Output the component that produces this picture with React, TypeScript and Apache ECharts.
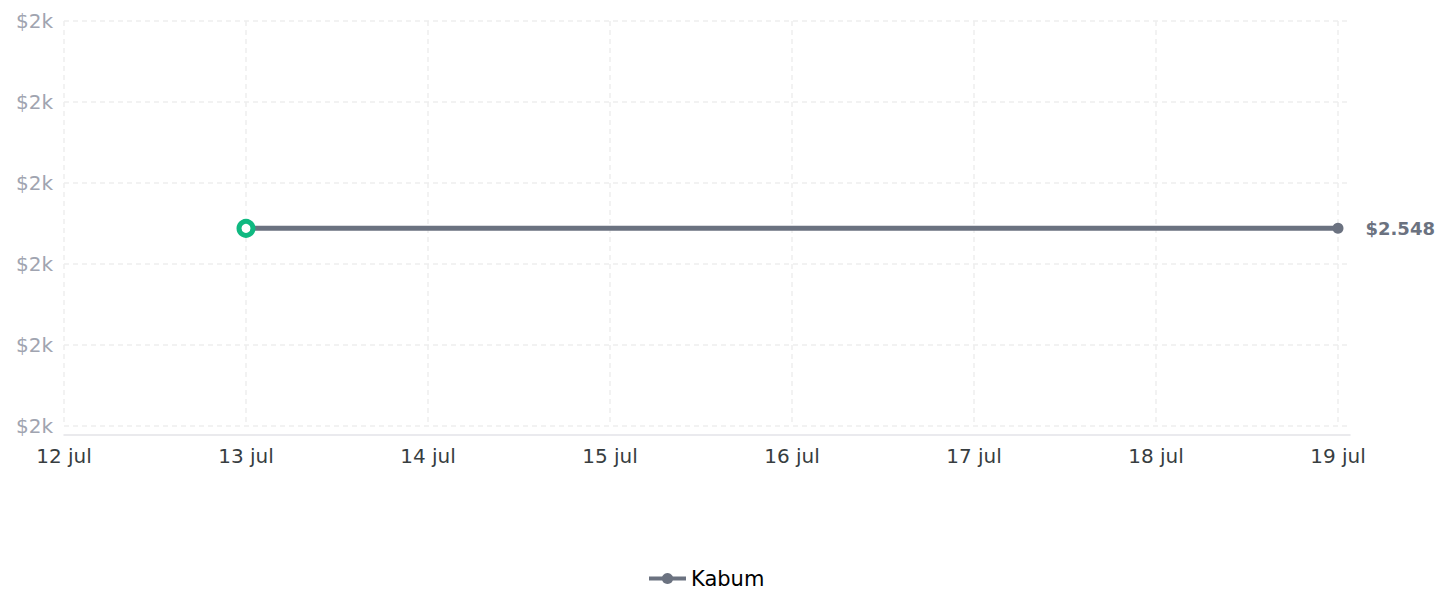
import React, { useEffect, useRef } from "react";
import * as echarts from "echarts";

const categories = ["12 jul", "13 jul", "14 jul", "15 jul", "16 jul", "17 jul", "18 jul", "19 jul"];
const seriesName = "Kabum";
const dayIndex = [1, 2, 3, 4, 5, 6, 7];
const prices = [2548, 2548, 2548, 2548, 2548, 2548, 2548];

const FONT = "'DejaVu Sans', sans-serif";
const LINE_COLOR = "#6b7280";
const GREEN = "#10b981";

function fmtBRL(v: number): string {
  const s = Math.round(v).toString();
  return "$" + s.replace(/\B(?=(\d{3})+(?!\d))/g, ".");
}

export default function App() {
  const ref = useRef<HTMLDivElement>(null);
  useEffect(() => {
    if (!ref.current) return;
    const chart = echarts.init(ref.current, undefined, { renderer: "svg" });
    const last = dayIndex.length - 1;
    const data = dayIndex.map((d, i) => {
      if (i === 0) {
        return {
          value: [d, prices[i]],
          symbol: "circle",
          symbolSize: 14,
          itemStyle: { color: "#ffffff", borderColor: GREEN, borderWidth: 5 },
        };
      }
      if (i === last) {
        return {
          value: [d, prices[i]],
          symbol: "circle",
          symbolSize: 11,
          itemStyle: { color: LINE_COLOR, borderWidth: 0 },
          label: {
            show: true,
            position: "right",
            distance: 22,
            formatter: (p: any) => fmtBRL(p.value[1]),
            color: LINE_COLOR,
            fontFamily: FONT,
            fontSize: 18,
            fontWeight: "bold",
          },
        };
      }
      return { value: [d, prices[i]], symbol: "none" };
    });

    chart.setOption({
      animation: false,
      grid: { left: 64, right: 102, top: 21, bottom: 187, containLabel: false },
      xAxis: {
        type: "value",
        min: 0,
        max: 7.066,
        interval: 1,
        offset: 9,
        axisLine: { show: true, lineStyle: { color: "#e3e3e8", width: 1.5 } },
        axisTick: { show: false },
        axisLabel: {
          showMaxLabel: false,
          margin: 11,
          color: "#373d3f",
          fontFamily: FONT,
          fontSize: 20,
          formatter: (v: number) => (Number.isInteger(v) ? categories[v] ?? "" : ""),
        },
        splitLine: {
          show: true,
          showMaxLine: false,
          lineStyle: { color: "#eeeeee", type: [5, 4], width: 1.5 },
        },
      },
      yAxis: {
        type: "value",
        min: 2545.56,
        max: 2550.56,
        interval: 1,
        axisLine: { show: false },
        axisTick: { show: false },
        axisLabel: {
          margin: 11,
          padding: [6, 0, 0, 0],
          color: "#a0a4b0",
          fontFamily: FONT,
          fontSize: 20,
          formatter: (v: number) => "$" + Math.floor(v / 1000) + "k",
        },
        splitLine: {
          show: true,
          lineStyle: { color: "#eeeeee", type: [5, 4], width: 1.5 },
        },
      },
      legend: {
        show: true,
        top: 568,
        left: 647,
        padding: 0,
        itemWidth: 37,
        itemHeight: 14,
        itemGap: 8,
        lineStyle: { width: 4, color: LINE_COLOR },
        itemStyle: { color: LINE_COLOR },
        textStyle: { color: "#000000", fontFamily: FONT, fontSize: 21, padding: [0, 0, 0, 0] },
        data: [seriesName],
      },
      series: [
        {
          name: seriesName,
          type: "line",
          showSymbol: true,
          symbol: "circle",
          symbolSize: 11,
          lineStyle: { color: LINE_COLOR, width: 5 },
          itemStyle: { color: LINE_COLOR },
          data,
          z: 3,
        },
      ],
    });
    return () => chart.dispose();
  }, []);
  return (
    <div
      ref={ref}
      style={{ position: "fixed", left: 0, top: 0, width: 1452, height: 613, background: "#fff" }}
    />
  );
}
